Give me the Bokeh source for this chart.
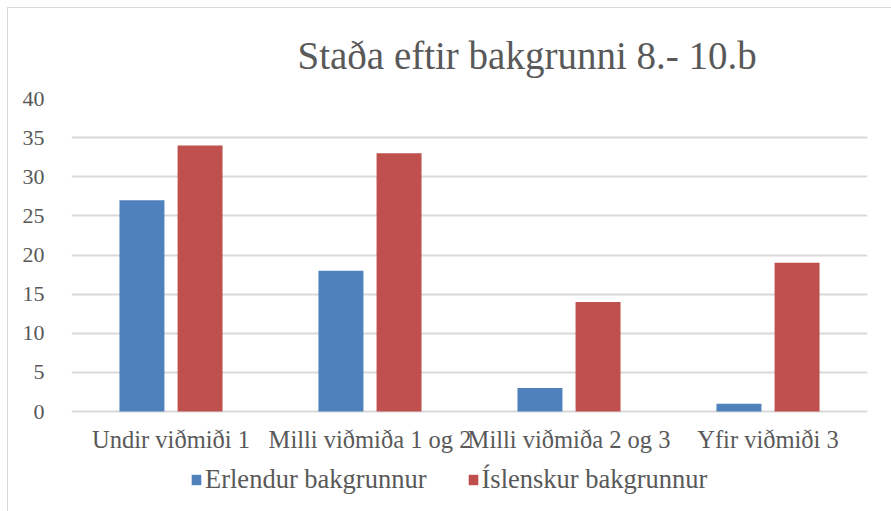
from bokeh.plotting import figure
from bokeh.models import ColumnDataSource, FactorRange, Legend, LegendItem, Range1d, FixedTicker
from bokeh.core.properties import value
from bokeh.transform import dodge
from bokeh.embed import file_html
from bokeh.resources import INLINE

categories = ["Undir viðmiði 1", "Milli viðmiða 1 og 2", "Milli viðmiða 2 og 3", "Yfir viðmiði 3"]
erlendur = [27, 18, 3, 1]
islenskur = [34, 33, 14, 19]
series_names = ["Erlendur bakgrunnur", "Íslenskur bakgrunnur"]
y_ticks = [0, 5, 10, 15, 20, 25, 30, 35, 40]
title_text = "Staða eftir bakgrunni 8.- 10.b"

FONT = "Liberation Serif"
GRAY = "#595959"
GRID = "#d9d9d9"
BLUE = "#4F81BD"
RED = "#C0504D"

src = ColumnDataSource(dict(cat=categories, e=erlendur, i=islenskur, base=[0] * len(categories)))

p = figure(x_range=FactorRange(*categories, range_padding=0), y_range=Range1d(-12.9, 40),
           width=884, height=504, output_backend="svg", toolbar_location=None,
           x_axis_location=None,
           min_border_left=63, min_border_right=25, min_border_bottom=0, min_border_top=90)
p.margin = (7, 0, 0, 7)

r1 = p.vbar(x=dodge("cat", -0.146, range=p.x_range), top="e", width=0.226, source=src,
            fill_color=BLUE, line_color=None)
r2 = p.vbar(x=dodge("cat", 0.146, range=p.x_range), top="i", width=0.226, source=src,
            fill_color=RED, line_color=None)

# category labels under the baseline
p.text(x="cat", y="base", text="cat", source=src, text_font=value(FONT),
       text_font_size="24.5px", text_color=GRAY, text_align="center",
       text_baseline="middle", y_offset=28)

p.title.text = title_text
p.title.text_font = FONT
p.title.text_font_size = "39px"
p.title.text_font_style = "normal"
p.title.text_color = GRAY
p.title.align = "left"
p.title.offset = 226
p.title.standoff = 44

p.outline_line_color = None
p.xgrid.grid_line_color = None
p.ygrid.grid_line_color = GRID
p.ygrid.grid_line_width = 2
p.yaxis.ticker = FixedTicker(ticks=y_ticks)
p.yaxis.axis_line_color = None
p.yaxis.major_tick_line_color = None
p.yaxis.minor_tick_line_color = None
p.yaxis.major_label_standoff = 21
p.yaxis.major_label_text_font = FONT
p.yaxis.major_label_text_font_size = "22px"
p.yaxis.major_label_text_color = GRAY

legend = Legend(items=[LegendItem(label=series_names[0], renderers=[r1]),
                       LegendItem(label=series_names[1], renderers=[r2])],
                orientation="horizontal", location=(119, 17),
                label_text_font=FONT, label_text_font_size="26.5px", label_text_color=GRAY,
                glyph_width=12, glyph_height=13, spacing=40, padding=0, margin=0,
                border_line_color=None, background_fill_alpha=0, label_standoff=3)
p.add_layout(legend, "center")

p.styles = {"border-left": "1px solid #d9d9d9", "border-top": "1px solid #d9d9d9"}

open("out.html", "w").write(file_html(p, INLINE))
